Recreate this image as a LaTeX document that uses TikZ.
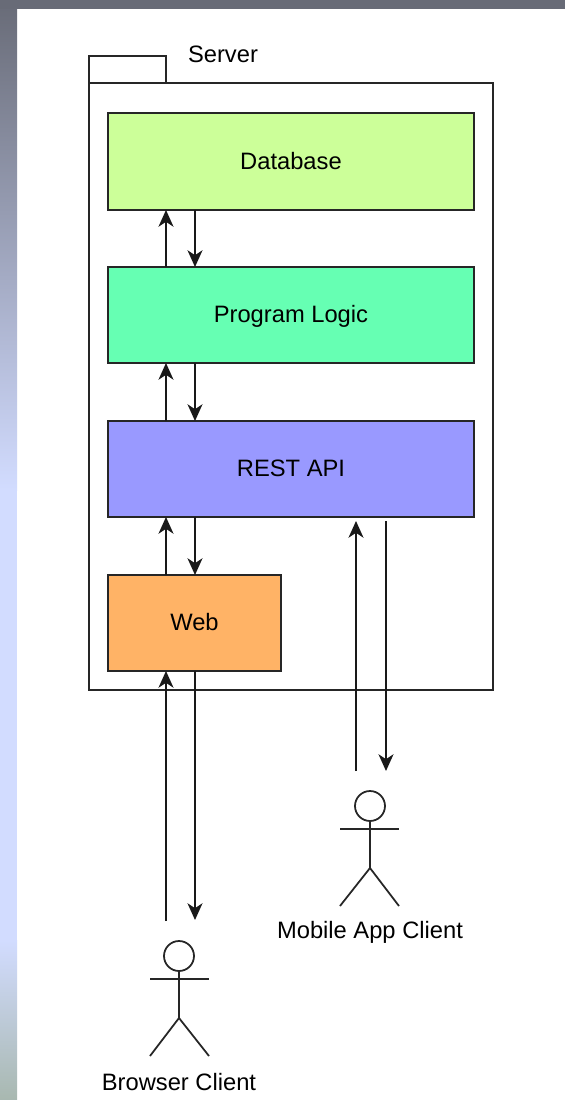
\documentclass[tikz,border=0pt]{standalone}
\usepackage{fontspec}
\setmainfont{Liberation Sans}
\usetikzlibrary{arrows.meta}
\definecolor{dbgreen}{HTML}{CCFF99}
\definecolor{logicgreen}{HTML}{66FFB3}
\definecolor{apiblue}{HTML}{9999FF}
\definecolor{weborange}{HTML}{FFB366}
\definecolor{stripdark}{HTML}{686B77}
\definecolor{striplight}{HTML}{D2DCFF}
\definecolor{stripsage}{HTML}{A8B8B0}
\tikzset{
	outline/.style={draw=black!85, line width=1.1pt, anchor=north west, inner sep=0pt, outer sep=0pt},
	layer/.style={outline, text height=10pt, text depth=1pt, font=\fontsize{13.5}{16}\selectfont},
	flow/.style={-{Stealth[length=9.5pt,width=8.5pt,inset=2.8pt]}, line width=1.1pt, black!90},
	limb/.style={line width=1pt, black!85},
	caption/.style={font=\fontsize{13.5}{16}\selectfont, inner sep=0pt},
}
\begin{document}
\begin{tikzpicture}[x=0.02cm, y=-0.02cm]
	\useasboundingbox (0,0) rectangle (565,1100);
	% backdrop
	\fill[white] (0,0) rectangle (565,1100);
	\shade[top color=stripdark, bottom color=striplight] (0,0) rectangle (17,490);
	\fill[striplight] (0,490) rectangle (17,940);
	\shade[top color=striplight, bottom color=stripsage] (0,940) rectangle (17,1100);
	\fill[stripdark] (0,0) rectangle (565,9);
	% server package
	\node[outline, minimum width=8.08cm, minimum height=12.14cm] (server) at (89,83) {};
	\node[outline, minimum width=1.54cm, minimum height=0.54cm] (tab) at (89,56) {};
	\node[caption] (serverlabel) at (223,54) {Server};
	% layers
	\node[layer, fill=dbgreen, minimum width=7.32cm, minimum height=1.94cm] (db) at (108,113) {Database};
	\node[layer, fill=logicgreen, minimum width=7.32cm, minimum height=1.92cm] (logic) at (108,267) {Program Logic};
	\node[layer, fill=apiblue, minimum width=7.32cm, minimum height=1.92cm] (api) at (108,421) {REST API};
	\node[layer, fill=weborange, minimum width=3.46cm, minimum height=1.92cm] (web) at (108,575) {Web};
	% arrow columns
	\coordinate (up) at (166,0);
	\coordinate (down) at (195,0);
	\coordinate (mup) at (356,0);
	\coordinate (mdown) at (386,0);
	\draw[flow] (logic.north -| up) -- (db.south -| up);
	\draw[flow] (db.south -| down) -- (logic.north -| down);
	\draw[flow] (api.north -| up) -- (logic.south -| up);
	\draw[flow] (logic.south -| down) -- (api.north -| down);
	\draw[flow] (web.north -| up) -- (api.south -| up);
	\draw[flow] (api.south -| down) -- (web.north -| down);
	% browser client
	\node[draw=black!85, line width=1pt, circle, inner sep=0pt, outer sep=0pt, minimum size=0.6cm] (bhead) at (179,956) {};
	\coordinate (bhip) at (179,1018);
	\coordinate (barml) at (150,979);
	\coordinate (barmr) at (209,979);
	\coordinate (blegl) at (150,1056);
	\coordinate (blegr) at (209,1056);
	\draw[limb] (bhead.south) -- (bhip);
	\draw[limb] (barml) -- (barmr);
	\draw[limb] (blegl) -- (bhip) -- (blegr);
	\node[caption] (browser) at (179,1082) {Browser Client};
	% mobile client
	\node[draw=black!85, line width=1pt, circle, inner sep=0pt, outer sep=0pt, minimum size=0.6cm] (mhead) at (370,806) {};
	\coordinate (mhip) at (370,868);
	\coordinate (marml) at (340,829);
	\coordinate (marmr) at (399,829);
	\coordinate (mlegl) at (340,906);
	\coordinate (mlegr) at (399,906);
	\draw[limb] (mhead.south) -- (mhip);
	\draw[limb] (marml) -- (marmr);
	\draw[limb] (mlegl) -- (mhip) -- (mlegr);
	\node[caption] (mobile) at (370,932) {Mobile App Client};
	% client arrows
	\coordinate (bfrom) at (0,921);
	\coordinate (bto) at (0,920);
	\coordinate (mfrom) at (0,771);
	\coordinate (mgap) at (0,521);
	\draw[flow] (bfrom -| up) -- (web.south -| up);
	\draw[flow] (web.south -| down) -- (bto -| down);
	\draw[flow] (mfrom -| mup) -- (mgap -| mup);
	\draw[flow] (mgap -| mdown) -- (mfrom -| mdown);
\end{tikzpicture}
\end{document}
